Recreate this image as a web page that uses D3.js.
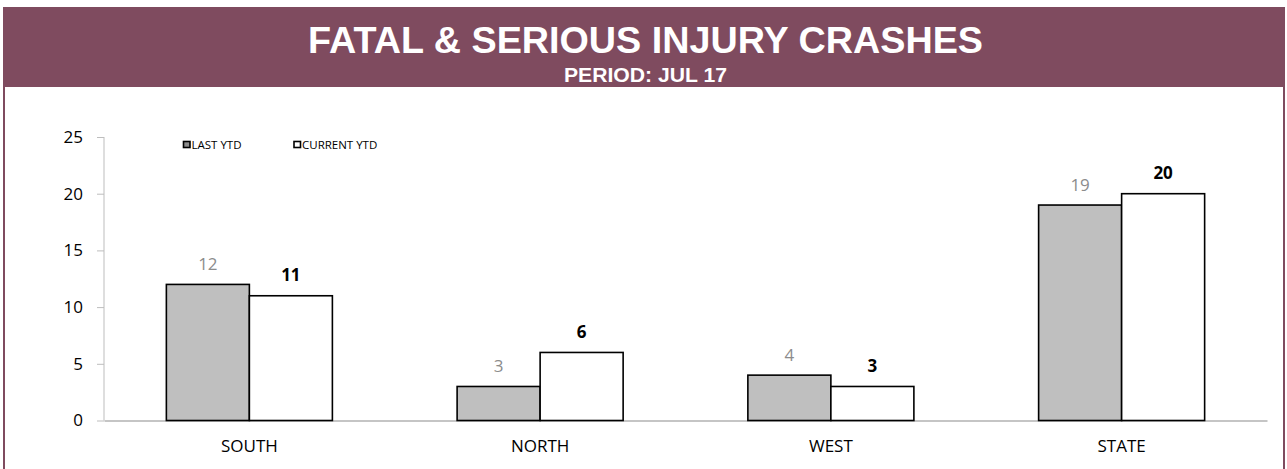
<!DOCTYPE html>
<html>
<head>
<meta charset="utf-8">
<script src="https://cdn.jsdelivr.net/npm/d3@7"></script>
<style>
  html, body { margin: 0; padding: 0; background: #fff; }
  svg { display: block; }
</style>
</head>
<body>
<svg id="chart" width="1287" height="469"></svg>
<script>
// Regions and year-to-date crash counts
const categories = ["SOUTH", "NORTH", "WEST", "STATE"];
const lastYtd = [12, 3, 4, 19];
const currentYtd = [11, 6, 3, 20];
const seriesNames = ["LAST YTD", "CURRENT YTD"];
const yTicks = [0, 5, 10, 15, 20, 25];
const titleText = "FATAL & SERIOUS INJURY CRASHES";
const subtitleText = "PERIOD: JUL 17";

const W = 1287, H = 469;
const maroon = "#7f4b5f";
const font = "'Open Sans', sans-serif";
const headFont = "'Liberation Sans', Arial, sans-serif";
const svg = d3.select("#chart");

// Frame and header band
svg.append("rect").attr("x", 4).attr("y", 8).attr("width", 1280).attr("height", 470)
  .attr("fill", "#fff").attr("stroke", maroon).attr("stroke-width", 2);
svg.append("rect").attr("x", 3).attr("y", 8).attr("width", 1282).attr("height", 79)
  .attr("fill", maroon);
svg.append("text").attr("x", 645.5).attr("y", 53).attr("text-anchor", "middle")
  .attr("fill", "#fff").attr("font-family", headFont)
  .attr("font-weight", "bold").attr("font-size", 36)
  .attr("textLength", 675).attr("lengthAdjust", "spacingAndGlyphs")
  .text(titleText);
svg.append("text").attr("x", 645.5).attr("y", 81.5).attr("text-anchor", "middle")
  .attr("fill", "#fff").attr("font-family", headFont)
  .attr("font-weight", "bold").attr("font-size", 20)
  .attr("textLength", 163).attr("lengthAdjust", "spacingAndGlyphs")
  .text(subtitleText);

// Plot area
const plot = { left: 104, right: 1267, top: 137, bottom: 420.5 };
const x = d3.scaleBand().domain(categories).range([plot.left, plot.right])
  .paddingInner(0.429).paddingOuter(0.2145);
const xs = d3.scaleBand().domain(seriesNames).range([0, x.bandwidth()]);
const y = d3.scaleLinear().domain([0, 25]).range([plot.bottom, plot.top]);

// Y axis
const yAxis = svg.append("g").attr("transform", `translate(${plot.left},0)`)
  .call(d3.axisLeft(y).tickValues(yTicks).tickSize(7).tickPadding(14));
yAxis.select(".domain").attr("stroke", "#bdbdbd").attr("d", `M0,${plot.top}V${plot.bottom}`);
yAxis.selectAll(".tick line").attr("stroke", "#bdbdbd");
yAxis.selectAll(".tick text").attr("font-family", font).attr("font-size", 17).attr("fill", "#000");

// X axis
const xAxis = svg.append("g").attr("transform", `translate(0,${plot.bottom})`)
  .call(d3.axisBottom(x).tickSize(0).tickPadding(19));
xAxis.select(".domain").attr("stroke", "#8c8c8c").attr("stroke-width", 1.2);
xAxis.selectAll(".tick text").attr("font-family", font).attr("font-size", 17).attr("fill", "#000");

// Bars
const rows = categories.map((c, i) => ({ cat: c, vals: [lastYtd[i], currentYtd[i]] }));
const fills = ["#bfbfbf", "#ffffff"];
const groups = svg.append("g").selectAll("g").data(rows).join("g")
  .attr("transform", d => `translate(${x(d.cat)},0)`);
groups.selectAll("rect").data(d => d.vals.map((v, k) => ({ v, k })))
  .join("rect")
  .attr("x", d => xs(seriesNames[d.k]))
  .attr("y", d => y(d.v))
  .attr("width", xs.bandwidth())
  .attr("height", d => y(0) - y(d.v))
  .attr("fill", d => fills[d.k])
  .attr("stroke", "#000").attr("stroke-width", 1.6);

// Value labels
groups.selectAll("text").data(d => d.vals.map((v, k) => ({ v, k })))
  .join("text")
  .attr("x", d => xs(seriesNames[d.k]) + xs.bandwidth() / 2)
  .attr("y", d => y(d.v) - 14.5)
  .attr("text-anchor", "middle")
  .attr("font-family", font).attr("font-size", 17)
  .attr("font-weight", d => d.k === 1 ? "bold" : "normal")
  .attr("fill", d => d.k === 1 ? "#000" : "#8c8c8c")
  .text(d => d.v);

// Legend
const legendX = [183, 293.5];
const legend = svg.append("g").selectAll("g").data(seriesNames).join("g")
  .attr("transform", (d, i) => `translate(${legendX[i]},141)`);
legend.append("rect").attr("x", 0.5).attr("y", 0.5).attr("width", 6.5).attr("height", 6)
  .attr("fill", (d, i) => i === 0 ? "#8c8c8c" : "#fff")
  .attr("stroke", "#000").attr("stroke-width", 1.6);
legend.append("text").attr("x", 8.5).attr("y", 7.5)
  .attr("font-family", font).attr("font-size", 11.5).attr("fill", "#000")
  .text(d => d);
</script>
</body>
</html>
